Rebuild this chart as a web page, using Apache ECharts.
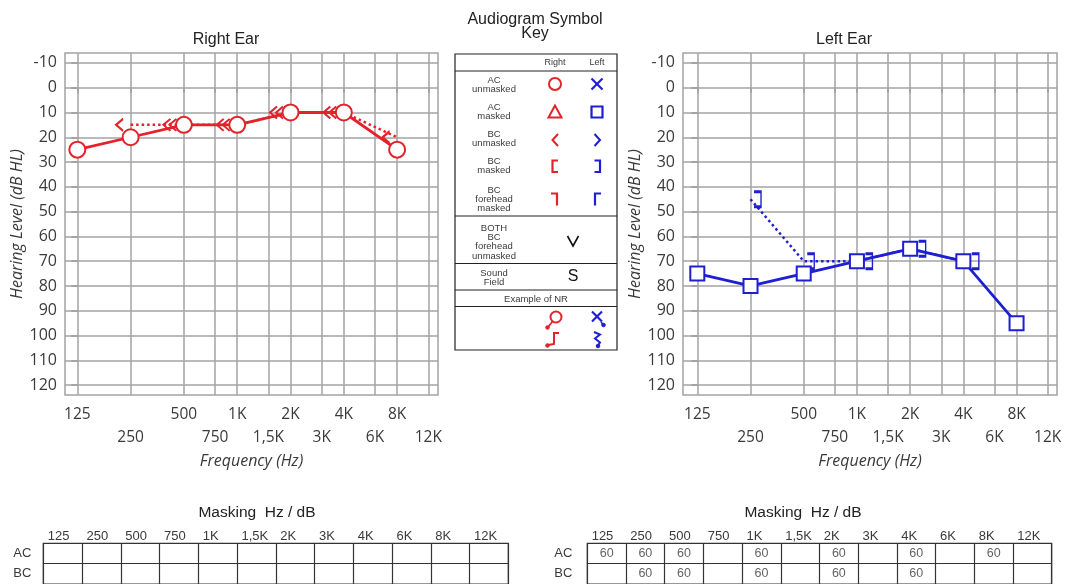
<!DOCTYPE html>
<html><head><meta charset="utf-8">
<script src="https://cdn.jsdelivr.net/npm/echarts@6/dist/echarts.min.js"></script>
<style>html,body{margin:0;padding:0;background:#fff}#c{width:1065px;height:584px}</style>
</head><body><div id="c"></div>
<script>
// ---- data ----
const freqs = [125, 250, 500, 750, 1000, 1500, 2000, 3000, 4000, 6000, 8000, 12000];
const freqLabels = ['125', '250', '500', '750', '1K', '1,5K', '2K', '3K', '4K', '6K', '8K', '12K'];
const yTicks = [-10, 0, 10, 20, 30, 40, 50, 60, 70, 80, 90, 100, 110, 120];
const rightAC = [[125, 25], [250, 20], [500, 15], [1000, 15], [2000, 10], [4000, 10], [8000, 25]];
const rightBC = [[250, 15], [500, 15], [1000, 15], [2000, 10], [4000, 10], [8000, 20]];
const leftAC = [[125, 75], [250, 80], [500, 75], [1000, 70], [2000, 65], [4000, 70], [8000, 95]];
const leftBC = [[250, 45], [500, 70], [1000, 70], [2000, 65], [4000, 70]];
const maskRows = ['AC', 'BC'];
const rightMaskAC = [null, null, null, null, null, null, null, null, null, null, null, null];
const rightMaskBC = [null, null, null, null, null, null, null, null, null, null, null, null];
const leftMaskAC = [60, 60, 60, null, 60, null, 60, null, 60, null, 60, null];
const leftMaskBC = [null, 60, 60, null, 60, null, 60, null, 60, null, null, null];

// ---- helpers ----
const RED = '#e4222b', BLUE = '#1f1fd2', GRID = '#a3a3a3', TXT = '#3a3a3a';
const Y_MIN = -14, Y_MAX = 124;
const oct = f => Math.log2(f / 125);
const octTicks = freqs.map(oct);
function nearestIdx(v) { let bi = 0, bd = 1e9; octTicks.forEach((t, i) => { const d = Math.abs(t - v); if (d < bd) { bd = d; bi = i; } }); return bi; }
function overlaps(ac, f, db) { return ac.some(p => p[0] === f && p[1] === db); }

const chartGrids = [
  { left: 65, top: 53, width: 373, height: 342, min: -0.231, max: 6.767 },
  { left: 683, top: 53, width: 374, height: 342, min: -0.269, max: 6.76 }
];
const tableGrids = [
  { left: 43.3, top: 543.3, width: 465, height: 43.4 },
  { left: 587.3, top: 543.3, width: 464.4, height: 43.4 }
];

const grid = [];
const xAxis = [];
const yAxis = [];
chartGrids.forEach((g, i) => {
  grid.push({ left: g.left, top: g.top, width: g.width, height: g.height, show: true, borderColor: GRID, borderWidth: 1.5, backgroundColor: '#fff' });
  xAxis.push({
    type: 'value', gridIndex: i, min: g.min, max: g.max,
    axisLine: { show: false }, splitLine: { show: false },
    axisTick: { show: true, customValues: octTicks, length: 5, lineStyle: { color: '#888', width: 1.5 } },
    axisLabel: {
      customValues: octTicks, margin: 8, fontSize: 15.5, fontFamily: 'Open Sans', color: TXT, lineHeight: 23,
      formatter: v => { const k = nearestIdx(v); return k % 2 === 0 ? freqLabels[k] : '\n' + freqLabels[k]; }
    },
    name: 'Frequency (Hz)', nameLocation: 'middle', nameGap: 56,
    nameTextStyle: { fontStyle: 'italic', fontSize: 16, fontFamily: 'Open Sans', color: TXT }
  });
  yAxis.push({
    type: 'value', gridIndex: i, inverse: true, min: Y_MIN, max: Y_MAX,
    axisLine: { show: false }, splitLine: { show: false },
    axisTick: { show: true, customValues: yTicks, length: 6, lineStyle: { color: '#888', width: 1.5 } },
    axisLabel: { customValues: yTicks, margin: 8, fontSize: 16, fontFamily: 'Open Sans', color: TXT },
    name: 'Hearing Level (dB HL)', nameLocation: 'middle', nameGap: 37,
    nameTextStyle: { fontStyle: 'italic', fontSize: 16, fontFamily: 'Open Sans', color: TXT }
  });
});
tableGrids.forEach((g, j) => {
  const i = j + 2;
  grid.push({ left: g.left, top: g.top, width: g.width, height: g.height, show: true, borderColor: '#333', borderWidth: 1.2 });
  xAxis.push({
    type: 'category', gridIndex: i, position: 'top', data: freqLabels,
    axisLine: { show: false }, axisTick: { show: false },
    splitLine: { show: true, interval: 0, lineStyle: { color: '#333', width: 1.2 } },
    axisLabel: {
      interval: 0, margin: 0, color: TXT, fontSize: 13, fontFamily: 'Liberation Sans',
      formatter: v => '{a|' + v + '}', rich: { a: { width: 30, align: 'left', fontSize: 13, fontFamily: 'Liberation Sans', color: TXT } }
    }
  });
  yAxis.push({
    type: 'category', gridIndex: i, inverse: true, data: maskRows,
    axisLine: { show: false }, axisTick: { show: false },
    splitLine: { show: true, interval: 0, lineStyle: { color: '#333', width: 1.2 } },
    axisLabel: { interval: 0, margin: j === 0 ? 12 : 15, color: TXT, fontSize: 13, fontFamily: 'Liberation Sans' }
  });
});

const chevron1 = 'path://M7,0 L0,6 L7,12';
const chevron2 = 'path://M7,0 L0,6 L7,12 M13,0 L6,6 L13,12';
const bracketR = 'path://M0,0 L7,0 L7,16 L0,16';

function gridLineSeries(gi) {
  const d = [];
  const xr = [chartGrids[gi].min, chartGrids[gi].max];
  octTicks.forEach(t => d.push({ coords: [[t, Y_MIN], [t, Y_MAX]] }));
  yTicks.forEach(v => d.push({ coords: [[xr[0], v], [xr[1], v]] }));
  return {
    type: 'lines', coordinateSystem: 'cartesian2d', xAxisIndex: gi, yAxisIndex: gi, z: 1, silent: true,
    symbol: ['none', 'none'], data: d, lineStyle: { color: GRID, width: 1.5, opacity: 1, curveness: 0 }
  };
}

const series = [
  gridLineSeries(0),
  gridLineSeries(1),
  // Right ear BC unmasked (dotted)
  {
    type: 'line', xAxisIndex: 0, yAxisIndex: 0, z: 3,
    data: rightBC.map(p => {
      const ov = overlaps(rightAC, p[0], p[1]);
      return { value: [oct(p[0]), p[1]], symbol: ov ? chevron2 : chevron1, symbolSize: ov ? [13, 12] : [7, 12], symbolOffset: ov ? [-14, 0] : [-11, 0] };
    }),
    lineStyle: { color: RED, width: 2.5, type: [2.5, 3] },
    itemStyle: { color: 'rgba(0,0,0,0)', borderColor: RED, borderWidth: 2 }
  },
  // Right ear AC unmasked
  {
    type: 'line', xAxisIndex: 0, yAxisIndex: 0, z: 4,
    data: rightAC.map(p => [oct(p[0]), p[1]]),
    symbol: 'emptyCircle', symbolSize: 16,
    lineStyle: { color: RED, width: 2.8 },
    itemStyle: { color: RED, borderWidth: 2 }
  },
  // Left ear BC masked (dotted)
  {
    type: 'line', xAxisIndex: 1, yAxisIndex: 1, z: 3,
    data: leftBC.map(p => {
      const ov = overlaps(leftAC, p[0], p[1]);
      return { value: [oct(p[0]), p[1]], symbol: bracketR, symbolSize: [7, 15], symbolOffset: ov ? [12, 0] : [7, 0] };
    }),
    lineStyle: { color: BLUE, width: 2.5, type: [2.5, 3] },
    itemStyle: { color: 'rgba(0,0,0,0)', borderColor: BLUE, borderWidth: 2 }
  },
  // Left ear AC masked
  {
    type: 'line', xAxisIndex: 1, yAxisIndex: 1, z: 4,
    data: leftAC.map(p => [oct(p[0]), p[1]]),
    symbol: 'emptyRect', symbolSize: 14,
    lineStyle: { color: BLUE, width: 2.8 },
    itemStyle: { color: BLUE, borderWidth: 2 }
  }
];
// masking tables
function maskSeries(gi, ac, bc) {
  const d = [];
  ac.forEach((v, k) => { if (v !== null) d.push([freqLabels[k], 'AC', v]); });
  bc.forEach((v, k) => { if (v !== null) d.push([freqLabels[k], 'BC', v]); });
  return {
    type: 'scatter', xAxisIndex: gi, yAxisIndex: gi, data: d, symbolSize: 1,
    itemStyle: { color: 'rgba(0,0,0,0)' },
    label: { show: true, position: 'inside', formatter: p => String(p.value[2]), fontSize: 12.5, fontFamily: 'Liberation Sans', color: TXT }
  };
}
series.push(maskSeries(2, rightMaskAC, rightMaskBC));
series.push(maskSeries(3, leftMaskAC, leftMaskBC));

// ---- static key & titles ----
const F = 'Liberation Sans';
function txt(x, y, s, size, color, extra) {
  return Object.assign({ type: 'text', x: x, y: y, silent: true, style: { text: s, fontSize: size || 9.5, fontFamily: F, fill: color || TXT, align: 'center', verticalAlign: 'middle' } }, extra || {});
}
function pl(points, color, lw) { return { type: 'polyline', silent: true, shape: { points: points }, style: { stroke: color, lineWidth: lw || 2, fill: null } }; }
function ln(x1, y1, x2, y2, color, lw) { return { type: 'line', silent: true, shape: { x1, y1, x2, y2 }, style: { stroke: color, lineWidth: lw || 1.2 } }; }
function circ(cx, cy, r, stroke, fill, lw) { return { type: 'circle', silent: true, shape: { cx, cy, r }, style: { stroke: stroke, fill: fill || null, lineWidth: lw || 2 } }; }

const g = [];
g.push(txt(226, 40, 'Right Ear', 16, '#222'));
g.push(txt(844, 40, 'Left Ear', 16, '#222'));
g.push(txt(535, 20, 'Audiogram Symbol', 16, '#222'));
g.push(txt(535, 34, 'Key', 16, '#222'));
g.push(txt(257, 512.5, 'Masking  Hz / dB', 15.5, '#222'));
g.push(txt(803, 512.5, 'Masking  Hz / dB', 15.5, '#222'));

// key box
const KL = 455, KR = 617, KT = 54, KB = 350;
g.push({ type: 'rect', silent: true, shape: { x: KL, y: KT, width: KR - KL, height: KB - KT }, style: { stroke: '#222', lineWidth: 1.2, fill: '#fff' } });
[71, 216, 263.5, 290, 306.5].forEach(y => g.push(ln(KL, y, KR, y, '#222', 1.2)));
g.push(txt(555, 62.5, 'Right', 9));
g.push(txt(597, 62.5, 'Left', 9));
const LX = 494;
[[['AC', 'unmasked'], 80], [['AC', 'masked'], 107], [['BC', 'unmasked'], 134], [['BC', 'masked'], 161],
 [['BC', 'forehead', 'masked'], 190], [['BOTH', 'BC', 'forehead', 'unmasked'], 228], [['Sound', 'Field'], 273]]
  .forEach(r => r[0].forEach((s, k) => g.push(txt(LX, r[1] + k * 9.3, s, 9.5))));
g.push(txt(536, 299, 'Example of NR', 9.5));
// symbols
g.push(circ(555, 84, 6, RED));
g.push(ln(591.5, 78.5, 602.5, 89.5, BLUE, 2.2), ln(602.5, 78.5, 591.5, 89.5, BLUE, 2.2));
g.push({ type: 'polygon', silent: true, shape: { points: [[555, 105.5], [548.5, 117.5], [561.5, 117.5]] }, style: { stroke: RED, lineWidth: 2, fill: null } });
g.push({ type: 'rect', silent: true, shape: { x: 591.5, y: 106.5, width: 11, height: 11 }, style: { stroke: BLUE, lineWidth: 2.2, fill: null } });
g.push(pl([[558, 134], [552.5, 140], [558, 146]], RED));
g.push(pl([[594.5, 134], [600, 140], [594.5, 146]], BLUE));
g.push(pl([[558, 160.5], [552.5, 160.5], [552.5, 172], [558, 172]], RED, 2.2));
g.push(pl([[594.5, 160.5], [600, 160.5], [600, 172], [594.5, 172]], BLUE, 2.2));
g.push(pl([[551, 193.5], [557, 193.5], [557, 205.5]], RED, 2.2));
g.push(pl([[601, 193.5], [595, 193.5], [595, 205.5]], BLUE, 2.2));
g.push(pl([[567.5, 236], [573, 246], [578.5, 236]], '#111', 1.6));
g.push(txt(573, 277, 'S', 16, '#111'));
// NR examples
g.push(circ(556, 317, 5.5, RED));
g.push(ln(552.5, 321.5, 548, 327, RED, 1.8), circ(547.5, 327.5, 1.8, RED, RED, 1));
g.push(pl([[559, 333], [554, 333], [554, 344], [548, 345]], RED, 2));
g.push(circ(547.5, 345.5, 1.8, RED, RED, 1));
g.push(ln(592, 311.5, 602, 321.5, BLUE, 2.2), ln(602, 311.5, 592, 321.5, BLUE, 2.2));
g.push(circ(603.5, 325, 1.8, BLUE, BLUE, 1), ln(601, 322, 603.5, 325, BLUE, 1.6));
g.push(pl([[594, 332], [600, 334.5], [595, 338.5], [600, 342.5], [598, 345.5]], BLUE, 2));
g.push(circ(598, 346, 1.8, BLUE, BLUE, 1));

const chart = echarts.init(document.getElementById('c'), null, { renderer: 'canvas' });
chart.setOption({
  animation: false,
  backgroundColor: '#fff',
  textStyle: { fontFamily: 'Open Sans' },
  grid: grid, xAxis: xAxis, yAxis: yAxis, series: series, graphic: g
});
</script></body></html>
